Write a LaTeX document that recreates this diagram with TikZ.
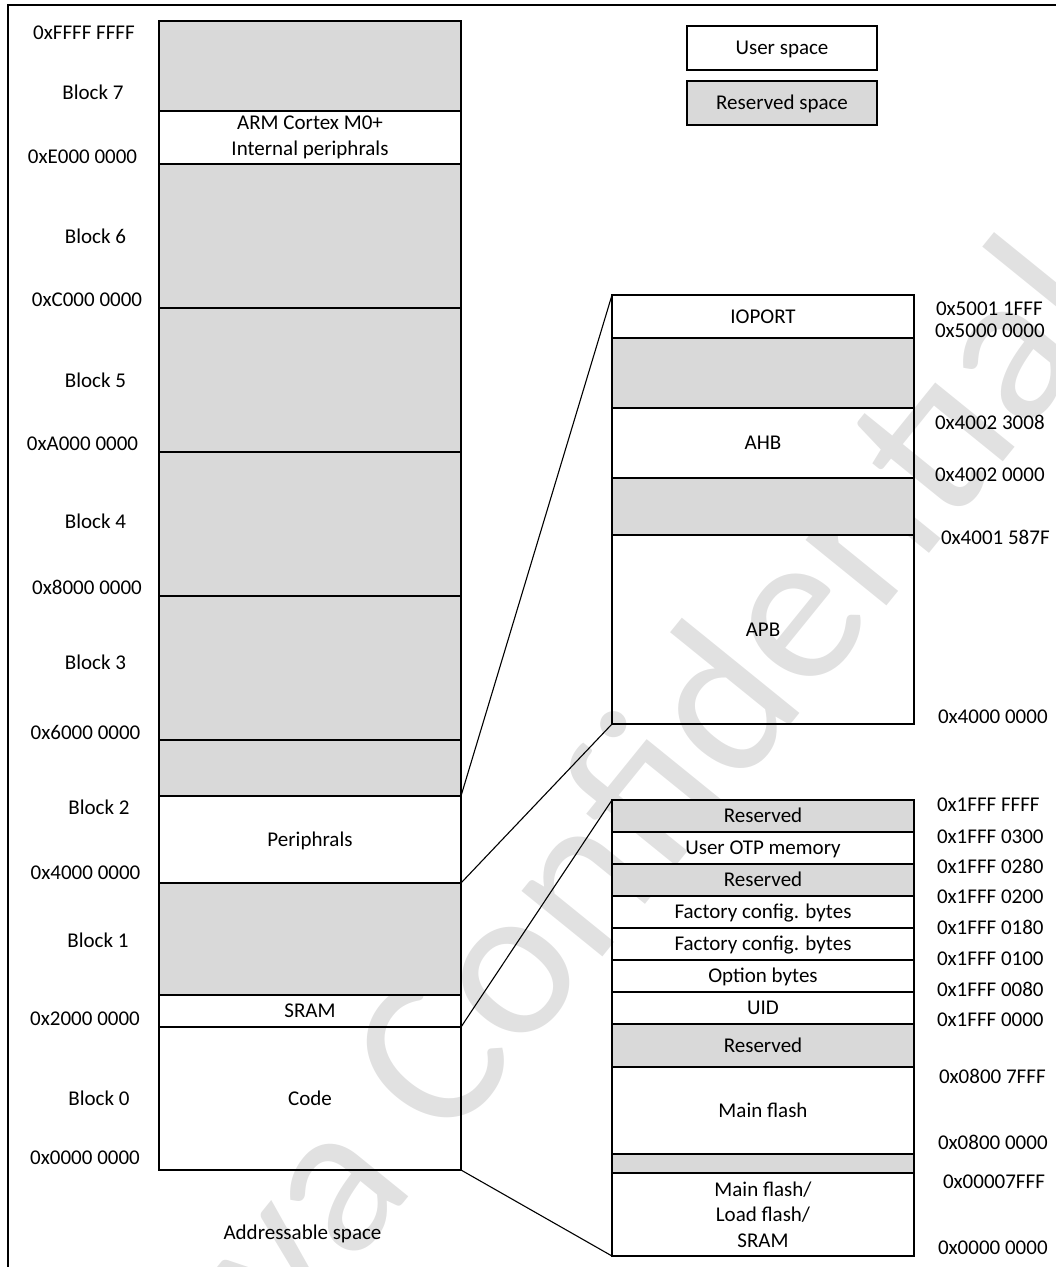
\documentclass[tikz,border=0pt]{standalone}
\usepackage{fontspec}
\setmainfont{Carlito}
\begin{document}
\begin{tikzpicture}[x=1pt,y=-1pt,
  every node/.style={font=\fontsize{21}{25.6}\selectfont, inner sep=0pt, outer sep=0pt},
  mem/.style={draw=black, line width=1.2pt, anchor=north west, minimum width=302pt, align=center},
  res/.style={mem, fill=resgray},
  lbl/.style={text height=13.5pt, text depth=0pt, anchor=center},
  rlbl/.style={text height=13.5pt, text depth=0pt, anchor=west},
  one/.style={text height=13.5pt, text depth=0pt},
  conn/.style={draw=black, line width=1.1pt},
  leg/.style={draw=black, line width=1.2pt, minimum width=190pt, minimum height=44pt, one}
]
\definecolor{resgray}{HTML}{D9D9D9}
\definecolor{wmgray}{HTML}{E1E1E1}
\useasboundingbox (0,0) rectangle (1056,1267);
\begin{scope}
\clip (0,0) rectangle (1056,1267);
% watermark
\node[text=wmgray, rotate=51, font=\fontsize{218}{218}\selectfont] (wm) at (590,880) {Puya Confidential};
% frame
\draw[line width=1.2pt] (8,1280) -- (8,5) -- (1070,5);
\end{scope}

% legend
\node[leg, anchor=north west] (leguser) at (687,26) {User space};
\node[leg, anchor=north west, fill=resgray] (legres) at (687,81) {Reserved space};

% left column
\node[res, minimum height=90pt] (b7) at (159,21) {};
\node[mem, minimum height=53pt] (arm) at (159,111) {ARM Cortex M0+\\Internal periphrals};
\node[res, minimum height=144pt] (b6) at (159,164) {};
\node[res, minimum height=144pt] (b5) at (159,308) {};
\node[res, minimum height=144pt] (b4) at (159,452) {};
\node[res, minimum height=144pt] (b3) at (159,596) {};
\node[res, minimum height=56pt] (b2r) at (159,740) {};
\node[mem, minimum height=87pt, one] (per) at (159,796) {Periphrals};
\node[res, minimum height=112pt] (b1) at (159,883) {};
\node[mem, minimum height=32pt, one] (sram) at (159,995) {SRAM};
\node[mem, minimum height=143pt, one] (code) at (159,1027) {Code};

% left labels
\node[lbl] (a0) at (84,33) {0xFFFF FFFF};
\node[lbl] (k7) at (93,93) {Block 7};
\node[lbl] (a1) at (82.5,157) {0xE000 0000};
\node[lbl] (k6) at (95.5,237) {Block 6};
\node[lbl] (a2) at (87,300) {0xC000 0000};
\node[lbl] (k5) at (95.5,381) {Block 5};
\node[lbl] (a3) at (82.5,444) {0xA000 0000};
\node[lbl] (k4) at (95.5,521.5) {Block 4};
\node[lbl] (a4) at (87,588) {0x8000 0000};
\node[lbl] (k3) at (95.5,663) {Block 3};
\node[lbl] (a5) at (85.5,733) {0x6000 0000};
\node[lbl] (k2) at (99,808) {Block 2};
\node[lbl] (a6) at (85.5,873) {0x4000 0000};
\node[lbl] (k1) at (98,941) {Block 1};
\node[lbl] (a7) at (85,1019) {0x2000 0000};
\node[lbl] (k0) at (99,1099) {Block 0};
\node[lbl] (a8) at (85,1158) {0x0000 0000};
\node[lbl] (addr) at (302.5,1233) {Addressable space};

% top-right panel
\node[mem, minimum height=43pt, one] (io) at (612,295) {IOPORT};
\node[res, minimum height=70pt] (pr1) at (612,338) {};
\node[mem, minimum height=70pt, one] (ahb) at (612,408) {AHB};
\node[res, minimum height=57pt] (pr2) at (612,478) {};
\node[mem, minimum height=189pt, one] (apb) at (612,535) {APB};

\node[rlbl] (p0) at (936,309) {0x5001 1FFF};
\node[rlbl] (p1) at (935,331) {0x5000 0000};
\node[rlbl] (p2) at (935,423) {0x4002 3008};
\node[rlbl] (p3) at (935,475) {0x4002 0000};
\node[rlbl] (p4) at (941,538) {0x4001 587F};
\node[rlbl] (p5) at (938,717) {0x4000 0000};

% bottom-right panel
\node[res, minimum height=32pt, one] (s1) at (612,800) {Reserved};
\node[mem, minimum height=32pt, one] (s2) at (612,832) {User OTP memory};
\node[res, minimum height=32pt, one] (s3) at (612,864) {Reserved};
\node[mem, minimum height=32pt, one] (s4) at (612,896) {Factory config. bytes};
\node[mem, minimum height=32pt, one] (s5) at (612,928) {Factory config. bytes};
\node[mem, minimum height=32pt, one] (s6) at (612,960) {Option bytes};
\node[mem, minimum height=32pt, one] (s7) at (612,992) {UID};
\node[res, minimum height=43pt, one] (s8) at (612,1024) {Reserved};
\node[mem, minimum height=87pt, one] (s9) at (612,1067) {Main flash};
\node[res, minimum height=19pt] (s10) at (612,1154) {};
\node[mem, minimum height=83pt] (s11) at (612,1173) {Main flash/\\Load flash/\\SRAM};

\node[rlbl] (q0) at (937,805) {0x1FFF FFFF};
\node[rlbl] (q1) at (937,837) {0x1FFF 0300};
\node[rlbl] (q2) at (937,867) {0x1FFF 0280};
\node[rlbl] (q3) at (937,897) {0x1FFF 0200};
\node[rlbl] (q4) at (937,928) {0x1FFF 0180};
\node[rlbl] (q5) at (937,959) {0x1FFF 0100};
\node[rlbl] (q6) at (937,990) {0x1FFF 0080};
\node[rlbl] (q7) at (937,1020) {0x1FFF 0000};
\node[rlbl] (q8) at (939,1077) {0x0800 7FFF};
\node[rlbl] (q9) at (938,1143) {0x0800 0000};
\node[rlbl] (q10) at (943,1182) {0x00007FFF};
\node[rlbl] (q11) at (938,1248) {0x0000 0000};

% connectors
\draw[conn] (per.north east) -- (io.north west);
\draw[conn] (per.south east) -- (apb.south west);
\draw[conn] (code.north east) -- (s1.north west);
\draw[conn] (code.south east) -- (s11.south west);
\end{tikzpicture}
\end{document}
